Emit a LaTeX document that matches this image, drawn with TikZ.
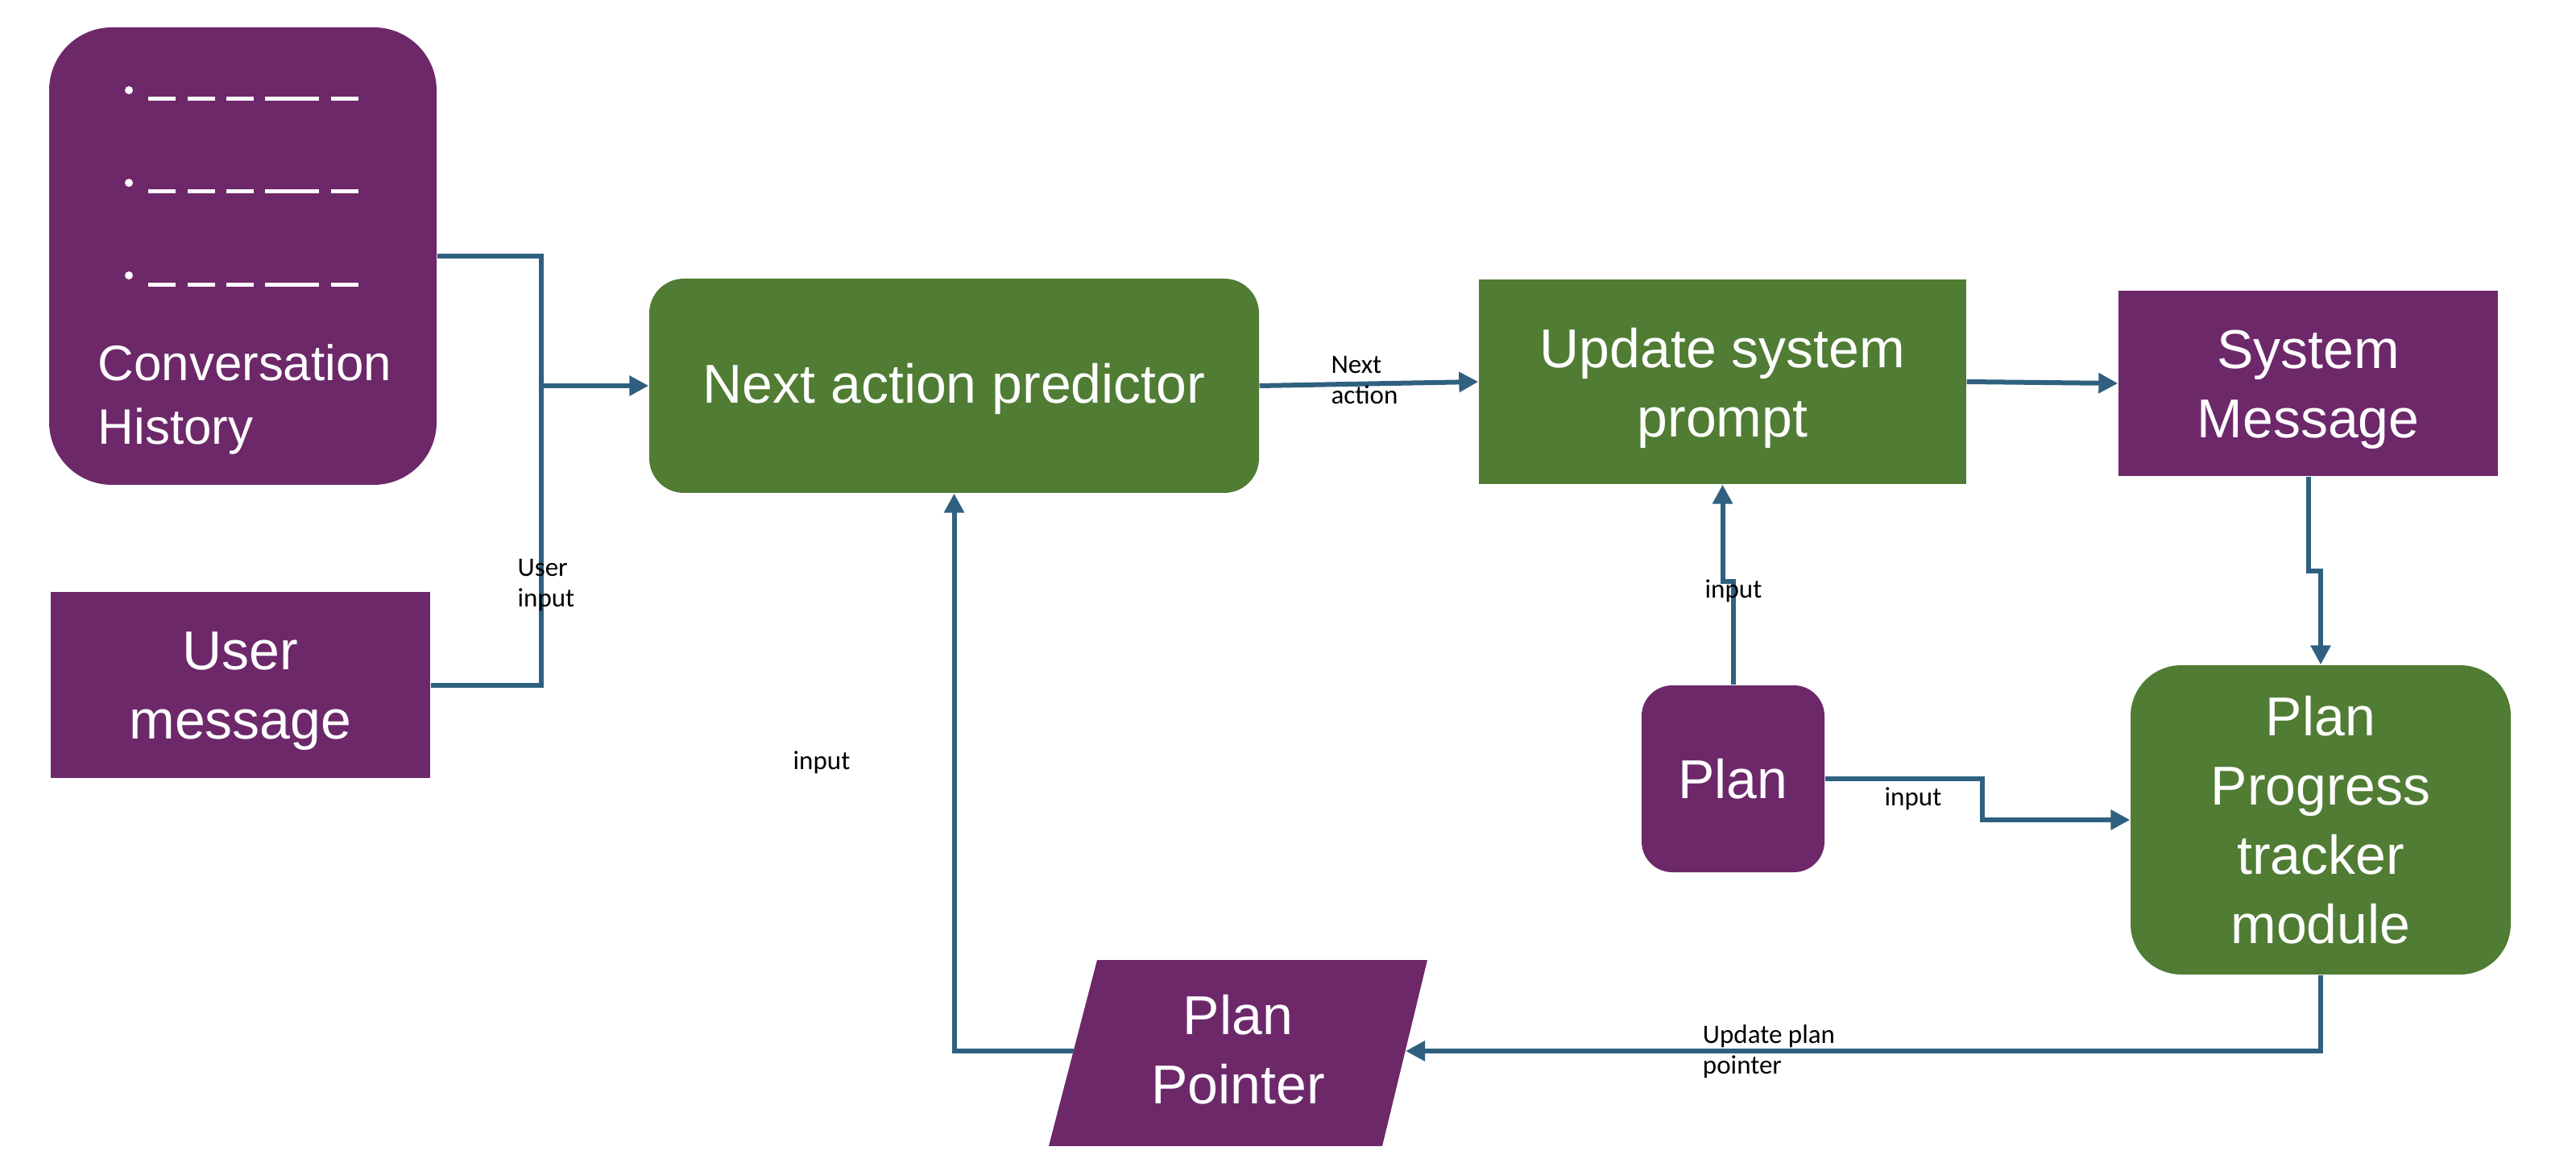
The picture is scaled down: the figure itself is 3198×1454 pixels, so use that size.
\documentclass[tikz,border=0pt]{standalone}
\usepackage{fontspec}
\setmainfont{Liberation Sans}
\newfontfamily\dglblfamily{Carlito}
\usetikzlibrary{arrows.meta}
\definecolor{boxpurple}{RGB}{109,40,106}
\definecolor{boxgreen}{RGB}{80,124,52}
\definecolor{conncol}{RGB}{47,96,128}
\newcommand{\dgmainfont}{\fontsize{19.35}{24.5}\selectfont}
\newcommand{\dgchfont}{\fontsize{17.6}{22.5}\selectfont}
\newcommand{\dglblfont}{\dglblfamily\fontsize{9.4}{10.8}\selectfont}
\begin{document}
\begin{tikzpicture}[x=0.1mm,y=-0.1mm,
  box/.style={rectangle, inner sep=0pt, text=white, align=center, font=\dgmainfont},
  pbox/.style={box, fill=boxpurple},
  gbox/.style={box, fill=boxgreen},
  conn/.style={draw=conncol, line width=0.6mm, -{Triangle[length=2.4mm,width=2.4mm]}},
  wire/.style={draw=conncol, line width=0.6mm},
  lbl/.style={font=\dglblfont, text=black, inner sep=0pt, align=left},
  bulletdash/.style={draw=white, line width=0.5mm}]
\useasboundingbox (0,0) rectangle (3198,1454);

% Conversation History
\node[pbox, rounded corners=7.8mm, minimum width=48.1mm, minimum height=56.8mm] (ch) at (301.5,318) {};
\foreach \yy/\dy in {112/123, 227/238, 342/354}{
  \fill[white] (160,\yy) circle (0.5mm);
  \draw[bulletdash] (184,\dy) -- (218,\dy);
  \draw[bulletdash] (233,\dy) -- (267,\dy);
  \draw[bulletdash] (281,\dy) -- (315,\dy);
  \draw[bulletdash] (329,\dy) -- (396,\dy);
  \draw[bulletdash] (411,\dy) -- (445,\dy);
}
\node[anchor=base west, font=\dgchfont, text=white, inner sep=0pt] (cht1) at (121,473) {Conversation};
\node[anchor=base west, font=\dgchfont, text=white, inner sep=0pt] (cht2) at (121,552) {History};

% other boxes
\node[pbox, minimum width=47.1mm, minimum height=23.1mm] (um) at (298.5,850.5) {};
\node[box] (umt) at (298.5,858) {User\\message};
\node[gbox, rounded corners=4.3mm, minimum width=75.7mm, minimum height=26.6mm] (nap) at (1184.5,479) {};
\node[box] (napt) at (1184.5,483) {Next action predictor};
\node[gbox, minimum width=60.5mm, minimum height=25.4mm] (usp) at (2138.5,474) {};
\node[box] (uspt) at (2138.5,482) {Update system\\prompt};
\node[pbox, minimum width=47.1mm, minimum height=23mm] (sm) at (2865.5,476) {};
\node[box] (smt) at (2865.5,484) {System\\Message};
\node[pbox, rounded corners=3.8mm, minimum width=22.7mm, minimum height=23.2mm] (plan) at (2151.5,967) {Plan};
\node[gbox, rounded corners=6.3mm, minimum width=47.2mm, minimum height=38.4mm] (ppt) at (2881,1018) {Plan\\Progress\\tracker\\module};

% Plan Pointer parallelogram
\fill[boxpurple] (1362,1192) -- (1772,1192) -- (1716,1423) -- (1302,1423) -- cycle;
\node[box] (pp) at (1537,1303) {Plan\\Pointer};
\coordinate (ppR) at (1745,1305);
\coordinate (ppL) at (1333,1305);
\coordinate (j) at (672,479);

% connectors
\draw[conn] (ch.east) -| (j) -- (nap.west);
\draw[wire] (um.east) -| (j);
\draw[conn] (nap.east) -- (usp.west);
\draw[conn] (usp.east) -- (sm.west);
\draw[conn] (sm.south) -- ++(0,117) -| (ppt.north);
\draw[conn] (plan.north) -- ++(0,-128) -| (usp.south);
\draw[conn] (plan.east) -- ++(195,0) |- (ppt.west);
\draw[conn] (ppt.south) |- (ppR);
\draw[conn] (ppL) -| (nap.south);

% labels
\node[lbl] (l1) at (678,727) {User\\input};
\node[lbl] (l2) at (1694,472) {Next\\action};
\node[lbl, anchor=base] (l3) at (2152,742) {input};
\node[lbl, anchor=base] (l4) at (2375,1000) {input};
\node[lbl, anchor=base] (l5) at (1020,955) {input};
\node[lbl] (l6) at (2196,1306) {Update plan\\pointer};
\end{tikzpicture}
\end{document}
